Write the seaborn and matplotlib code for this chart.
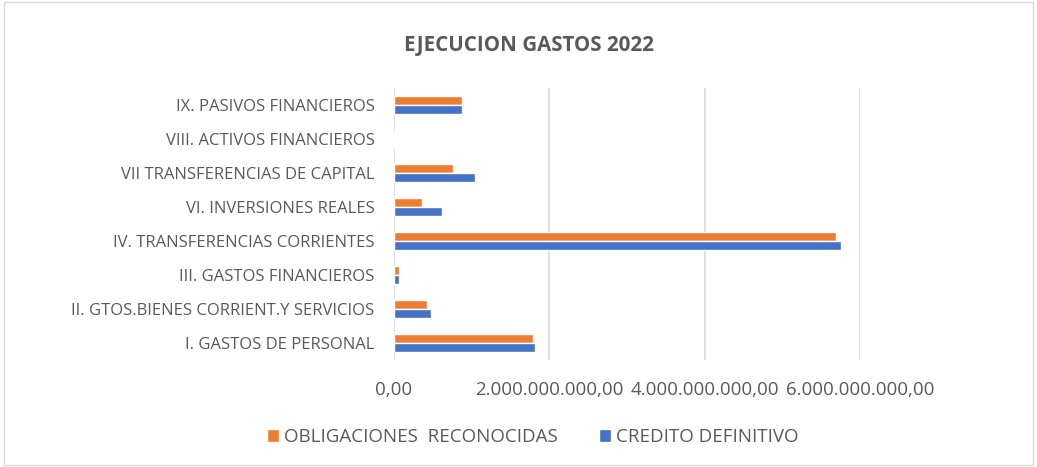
import matplotlib
matplotlib.use('Agg')
import matplotlib.pyplot as plt
import matplotlib.ticker as mticker
import seaborn as sns
import pandas as pd

categorias = ['IX. PASIVOS FINANCIEROS', 'VIII. ACTIVOS FINANCIEROS',
              'VII TRANSFERENCIAS DE CAPITAL', 'VI. INVERSIONES REALES',
              'IV. TRANSFERENCIAS CORRIENTES', 'III. GASTOS FINANCIEROS',
              'II. GTOS.BIENES CORRIENT.Y SERVICIOS', 'I. GASTOS DE PERSONAL']
obligaciones = [0.88e9, 0.0, 0.76e9, 0.36e9, 5.69e9, 0.07e9, 0.43e9, 1.79e9]
credito = [0.88e9, 0.0, 1.04e9, 0.62e9, 5.75e9, 0.07e9, 0.47e9, 1.82e9]
series = ['OBLIGACIONES  RECONOCIDAS', 'CREDITO DEFINITIVO']
colores = ['#ED7D31', '#4472C4']
xticks = [0, 2e9, 4e9, 6e9]

df = pd.DataFrame({
    'categoria': categorias * 2,
    'valor': obligaciones + credito,
    'serie': [series[0]] * len(categorias) + [series[1]] * len(categorias),
})

sns.set_theme(style='white')
plt.rcParams['font.family'] = ['Open Sans', 'DejaVu Sans']
gris = '#595959'

fig = plt.figure(figsize=(10.37, 4.67), dpi=100)
ax = fig.add_axes([394 / 1037, 1 - 360 / 467, (860 - 394) / 1037, (360 - 88) / 467])

sns.barplot(data=df, y='categoria', x='valor', hue='serie', order=categorias,
            hue_order=series, palette=colores, width=0.54, orient='h',
            saturation=1, ax=ax, legend=True)

ax.set_xlim(0, 6e9)
ax.set_xticks(xticks)
ax.xaxis.set_major_formatter(mticker.FuncFormatter(
    lambda v, p: f'{v:,.2f}'.replace(',', 'X').replace('.', ',').replace('X', '.')))
ax.grid(axis='x', color='#D9D9D9', linewidth=1.2)
ax.set_axisbelow(True)
for s in ax.spines.values():
    s.set_visible(False)
ax.set_xlabel('')
ax.set_ylabel('')
ax.tick_params(axis='y', length=0, pad=14, labelsize=12, labelcolor=gris)
ax.tick_params(axis='x', length=0, pad=15, labelsize=13.5, labelcolor=gris)

handles, labels = ax.get_legend_handles_labels()
ax.legend_.remove()
fig.legend(handles, labels, loc='center', bbox_to_anchor=(0.514, 1 - 437 / 467),
           ncol=2, frameon=False, fontsize=13.5, labelcolor=gris,
           handlelength=0.6, handleheight=0.75, handletextpad=0.3, columnspacing=2.2)

fig.text(0.51, 1 - 45 / 467, 'EJECUCION GASTOS 2022', ha='center', va='center',
         fontsize=14.8, fontweight='bold', color=gris)

fig.patches.append(plt.Rectangle((0.004, 0.004), 0.992, 0.992, transform=fig.transFigure,
                                 fill=False, edgecolor='#D9D9D9', linewidth=1))

fig.savefig('out.png', dpi=100)
